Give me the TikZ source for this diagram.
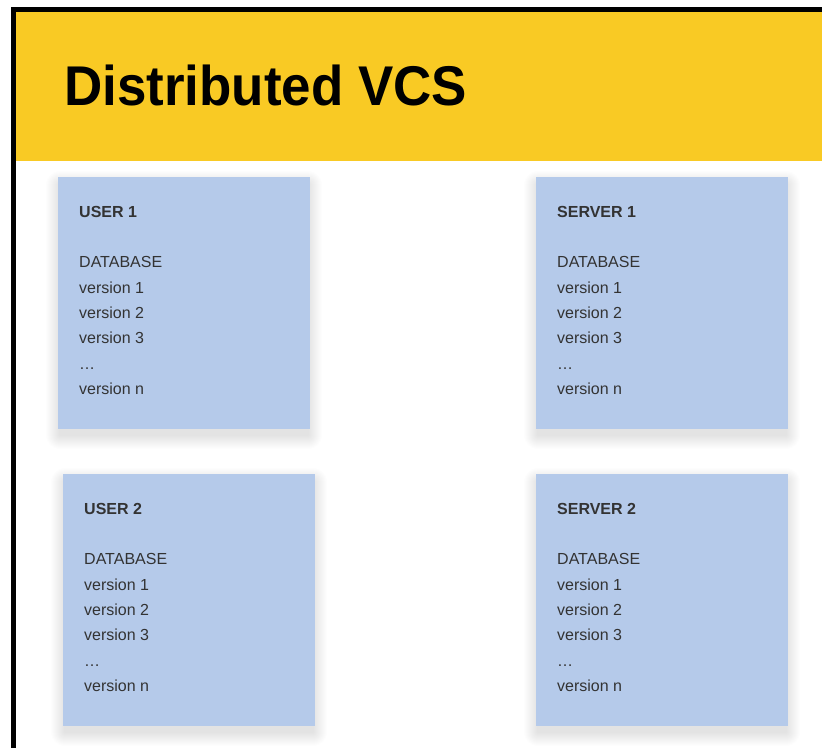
\documentclass[tikz,border=0pt]{standalone}
\usepackage{fontspec}
\usepackage{graphicx}
\setmainfont{Liberation Sans}
\usetikzlibrary{calc}

\definecolor{headeryellow}{RGB}{249,202,36}
\definecolor{notebg}{RGB}{181,202,234}
\definecolor{notetext}{RGB}{51,51,51}

\tikzset{
  note/.style={anchor=north west, fill=notebg, inner sep=0pt,
    minimum width=252pt, minimum height=252pt},
  notehead/.style={anchor=base west, inner sep=0pt, text=notetext,
    font=\fontsize{16}{16}\selectfont\bfseries},
  noteline/.style={anchor=base west, inner sep=0pt, text=notetext,
    font=\fontsize{16}{16}\selectfont},
  title/.style={anchor=base west, inner sep=0pt, text=black,
    font=\fontsize{56}{56}\selectfont\bfseries},
}

% a sticky note with a soft drop shadow: name, left, top, heading
\newcommand\dbnote[4]{%
  \foreach \s in {1,...,14}{
    \fill[black, opacity=0.007, rounded corners=\s pt]
      (#2+2-\s, #3+8-\s) rectangle (#2+250+\s, #3+258+\s);
  }
  \node[note] (#1) at (#2,#3) {};
  \node[notehead] (#1-head) at ($(#1.north west)+(21,40.3)$) {#4};
  \foreach \txt [count=\k from 2] in {DATABASE,version 1,version 2,version 3,…,version n}{
    \node[noteline] (#1-line\k) at ($(#1.north west)+(21,40.3+25.3*\k)$) {\txt};
  }
}

\begin{document}
\begin{tikzpicture}[x=1pt, y=-1pt]
  \useasboundingbox (0,0) rectangle (822,748);
  \fill[white] (0,0) rectangle (822,748);

  % header band and frame
  \fill[headeryellow] (16,12) rectangle (822,161);
  \fill[black] (11,7) rectangle (822,12);
  \fill[black] (11,7) rectangle (16,748);

  \node[title] (heading) at (64,105) {\scalebox{0.945}[1]{Distributed VCS}};

  \dbnote{user1}{58}{177}{USER 1}
  \dbnote{server1}{536}{177}{SERVER 1}
  \dbnote{user2}{63}{474}{USER 2}
  \dbnote{server2}{536}{474}{SERVER 2}
\end{tikzpicture}
\end{document}
